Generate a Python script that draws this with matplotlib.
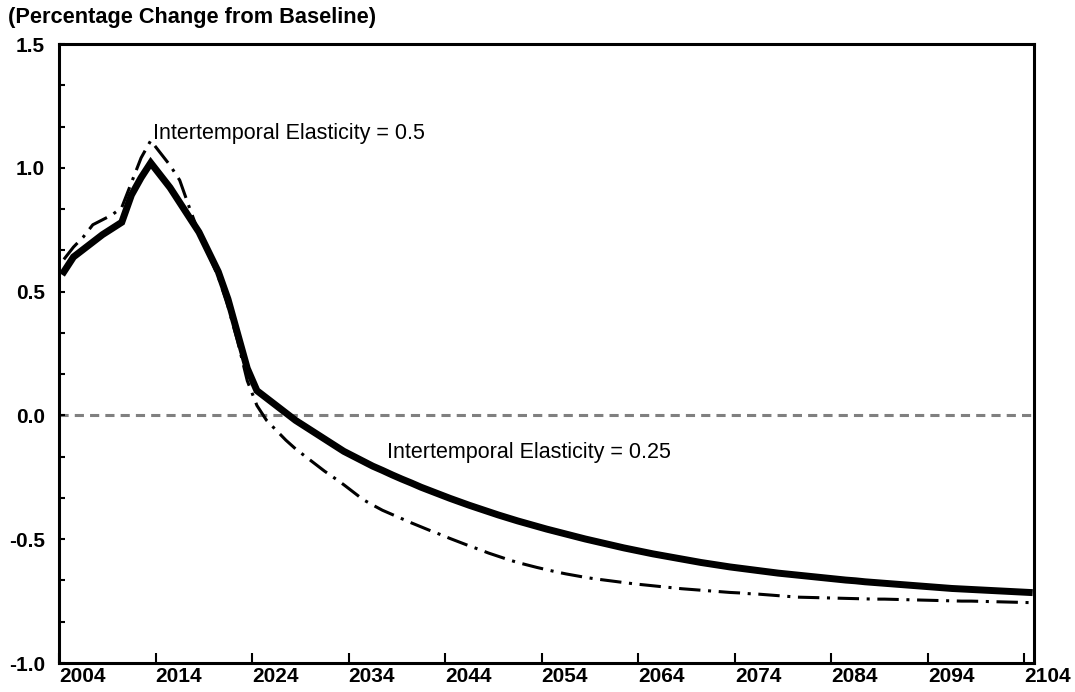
import numpy as np
import matplotlib
matplotlib.use("Agg")
import matplotlib.pyplot as plt
from matplotlib.ticker import MultipleLocator

plt.rcParams['font.family'] = ['Liberation Sans', 'DejaVu Sans']

years = np.arange(2004, 2105)

# Intertemporal Elasticity = 0.25 (thick solid)
elast_025 = [
    0.58, 0.64, 0.67, 0.70, 0.73, 0.755, 0.78, 0.89, 0.96, 1.02,
    0.97, 0.92, 0.86, 0.80, 0.74, 0.66, 0.58, 0.47, 0.33, 0.19,
    0.10, 0.07, 0.04, 0.01, -0.02, -0.045, -0.07, -0.095, -0.12, -0.145,
    -0.165, -0.185, -0.205, -0.222, -0.24, -0.257, -0.273, -0.29, -0.305, -0.32,
    -0.335, -0.349, -0.363, -0.376, -0.389, -0.402, -0.414, -0.426, -0.437, -0.448,
    -0.459, -0.469, -0.479, -0.489, -0.499, -0.508, -0.517, -0.526, -0.535, -0.543,
    -0.551, -0.559, -0.566, -0.573, -0.58, -0.587, -0.594, -0.6, -0.606, -0.612,
    -0.617, -0.622, -0.627, -0.632, -0.637, -0.641, -0.645, -0.649, -0.653, -0.657,
    -0.661, -0.665, -0.668, -0.672, -0.675, -0.678, -0.681, -0.684, -0.687, -0.69,
    -0.693, -0.696, -0.699, -0.701, -0.703, -0.705, -0.707, -0.709, -0.711, -0.713,
    -0.715,
]

# Intertemporal Elasticity = 0.5 (dash-dot)
elast_05 = [
    0.63, 0.68, 0.72, 0.77, 0.79, 0.81, 0.84, 0.94, 1.04, 1.11,
    1.06, 1.01, 0.95, 0.84, 0.735, 0.65, 0.56, 0.44, 0.30, 0.14,
    0.04, -0.02, -0.06, -0.10, -0.135, -0.165, -0.195, -0.225, -0.252, -0.28,
    -0.31, -0.34, -0.362, -0.383, -0.4, -0.417, -0.434, -0.45, -0.466, -0.481,
    -0.497, -0.512, -0.527, -0.541, -0.556, -0.569, -0.582, -0.594, -0.604, -0.614,
    -0.623, -0.632, -0.64, -0.647, -0.654, -0.66, -0.665, -0.67, -0.675, -0.68,
    -0.684, -0.688, -0.692, -0.696, -0.70, -0.703, -0.706, -0.709, -0.712, -0.715,
    -0.717, -0.72, -0.722, -0.725, -0.728, -0.731, -0.734, -0.735, -0.736, -0.737,
    -0.738, -0.739, -0.74, -0.741, -0.742, -0.742, -0.743, -0.744, -0.745, -0.746,
    -0.747, -0.748, -0.749, -0.75, -0.75, -0.751, -0.752, -0.753, -0.754, -0.755,
    -0.756,
]

tick_years = np.arange(2004, 2105, 10)

fig = plt.figure(figsize=(10.75, 6.92), dpi=100)
ax = fig.add_axes([0.0549, 0.0419, 0.907, 0.8945])

ax.axhline(0, color='#808080', lw=2.2, dashes=(3, 2), zorder=1)
ax.plot(years, elast_05, color='black', lw=2.2, dashes=(7, 2.5, 1, 2.5), zorder=2)
ax.plot(years, elast_025, color='black', lw=5.0, solid_joinstyle='miter', zorder=3)

ax.set_xlim(2003.5, 2104.5)
ax.set_ylim(-1.0, 1.5)

# year labels sit just right of their tick, like the original
ax.set_xticks(tick_years - 0.5)
ax.set_xticklabels([str(y) for y in tick_years])
for lbl in ax.get_xticklabels():
    lbl.set_horizontalalignment('left')
ax.yaxis.set_major_locator(MultipleLocator(0.5))
ax.yaxis.set_minor_locator(MultipleLocator(0.5 / 3))
ax.yaxis.set_major_formatter(matplotlib.ticker.FormatStrFormatter('%.1f'))

ax.tick_params(axis='x', direction='in', length=7, width=1.5, pad=3,
               labelsize=15, top=False)
ax.tick_params(axis='y', which='both', direction='in', length=4, width=1.5,
               pad=10, labelsize=15, right=False)
for lbl in ax.get_xticklabels() + ax.get_yticklabels():
    lbl.set_fontweight('bold')

for sp in ax.spines.values():
    sp.set_linewidth(2.2)

ax.text(2013.2, 1.14, 'Intertemporal Elasticity = 0.5', fontsize=15.5,
        va='center', ha='left')
ax.text(2037.5, -0.15, 'Intertemporal Elasticity = 0.25', fontsize=15.5,
        va='center', ha='left')

fig.text(8 / 1075, 1 - 18 / 692, '(Percentage Change from Baseline)',
         fontsize=15.7, fontweight='bold', va='center', ha='left')

fig.savefig('out.png', dpi=100)
